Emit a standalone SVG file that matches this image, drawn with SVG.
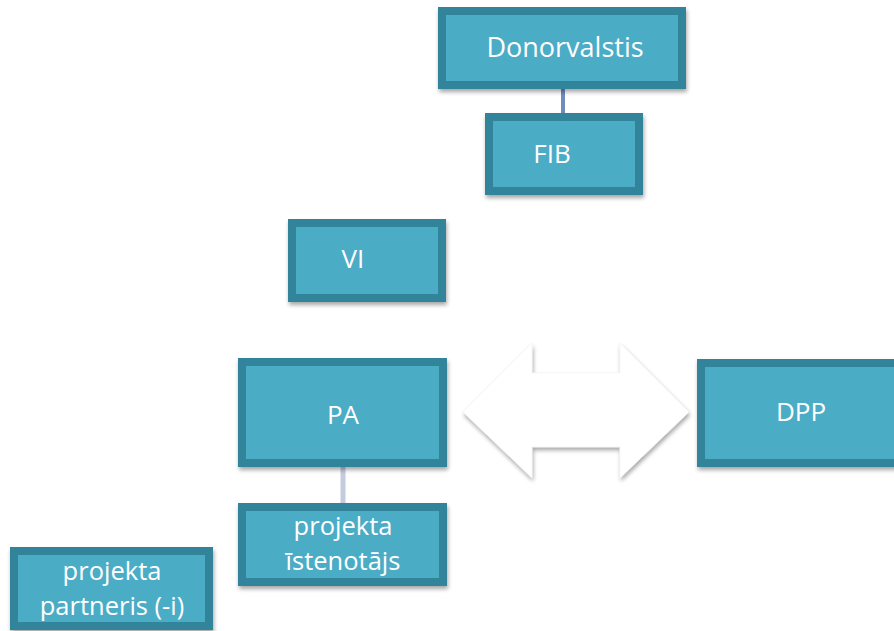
<svg xmlns="http://www.w3.org/2000/svg" width="894" height="631" viewBox="0 0 894 631">
<defs>
<filter id="sh" x="-10%" y="-10%" width="130%" height="140%">
<feGaussianBlur in="SourceAlpha" stdDeviation="2"/>
<feOffset dx="1" dy="3" result="b"/>
<feComponentTransfer><feFuncA type="linear" slope="0.35"/></feComponentTransfer>
<feMerge><feMergeNode/><feMergeNode in="SourceGraphic"/></feMerge>
</filter>
<style>
.box{fill:#4BACC6;stroke:#31849B;stroke-width:8;filter:url(#sh)}
.t{font-family:"Open Sans","Liberation Sans",sans-serif;fill:#FFFFFF;text-anchor:middle}
.lg{font-size:26px}
.sm{font-size:25.5px}
</style>
</defs>
<rect width="894" height="631" fill="#FFFFFF"/>
<g id="connectors">
<line x1="563" y1="89" x2="563" y2="113" stroke="#6F8CC0" stroke-width="4"/>
<line x1="343" y1="467" x2="343" y2="503" stroke="#C3CBDD" stroke-width="5"/>
<path d="M463,412 L532,343 L532,373 L620,373 L620,343 L689,412 L620,478 L620,447 L532,447 L532,478 Z" fill="#FFFFFF" stroke="#EEEEEE" stroke-width="0.5" filter="url(#sh)"/>
</g>
<g id="donorvalstis">
<rect class="box" x="442" y="11" width="240" height="74"/>
<text class="t" x="565" y="57" style="font-size:27px">Donorvalstis</text>
</g>
<g id="fib">
<rect class="box" x="489" y="117" width="150" height="74"/>
<text class="t lg" x="552" y="163">FIB</text>
</g>
<g id="vi">
<rect class="box" x="292" y="223" width="150" height="75"/>
<text class="t lg" x="353" y="268">VI</text>
</g>
<g id="pa">
<rect class="box" x="242" y="362" width="201" height="101"/>
<text class="t lg" x="343" y="424">PA</text>
</g>
<g id="dpp">
<rect class="box" x="701" y="363" width="210" height="100"/>
<text class="t lg" x="801" y="421">DPP</text>
</g>
<g id="projekta-istenotajs">
<rect class="box" x="242" y="507" width="201" height="75"/>
<text class="t sm" x="343" y="535">projekta</text>
<text class="t sm" x="343" y="570">īstenotājs</text>
</g>
<g id="projekta-partneris">
<rect class="box" x="14" y="551" width="195" height="75"/>
<text class="t sm" x="112" y="580">projekta</text>
<text class="t sm" x="112" y="615">partneris (-i)</text>
</g>
</svg>
